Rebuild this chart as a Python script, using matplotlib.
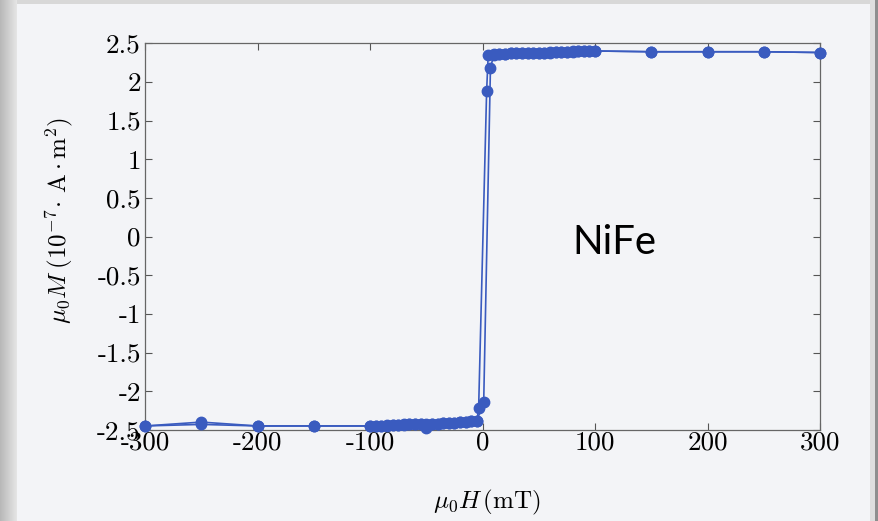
import numpy as np
import matplotlib
matplotlib.use("Agg")
import matplotlib.pyplot as plt
from matplotlib.patches import Rectangle

plt.rcParams['font.family'] = 'serif'
plt.rcParams['font.serif'] = ['cmr10', 'DejaVu Serif']
plt.rcParams['mathtext.fontset'] = 'cm'
plt.rcParams['axes.unicode_minus'] = False

# field sweep from -300 mT up to +300 mT
H_up = [-300, -250, -200, -150, -100, -95, -90, -85, -80, -75, -70, -65, -60,
        -55, -50, -45, -40, -35, -30, -25, -20, -15, -10, -5, 1, 7, 10, 15,
        20, 25, 30, 35, 40, 45, 50, 55, 60, 65, 70, 75, 80, 85, 90, 95, 100,
        150, 200, 250, 300]
M_up = [-2.45, -2.40, -2.45, -2.45, -2.45, -2.45, -2.45, -2.44, -2.44, -2.44,
        -2.43, -2.43, -2.43, -2.43, -2.42, -2.42, -2.42, -2.41, -2.41, -2.41,
        -2.40, -2.40, -2.39, -2.38, -2.14, 2.18, 2.35, 2.36, 2.36, 2.37, 2.37,
        2.37, 2.38, 2.38, 2.38, 2.38, 2.39, 2.39, 2.39, 2.39, 2.40, 2.40,
        2.40, 2.40, 2.40, 2.39, 2.39, 2.39, 2.38]

# field sweep from +300 mT back down to -300 mT
H_down = [300, 250, 200, 150, 100, 95, 90, 85, 80, 75, 70, 65, 60, 55, 50,
          45, 40, 35, 30, 25, 20, 15, 10, 5, 3.6, -3.5, -5, -10, -15, -20,
          -25, -30, -35, -40, -45, -50, -55, -60, -65, -70, -75, -80, -85,
          -90, -95, -100, -150, -200, -250, -300]
M_down = [2.38, 2.39, 2.39, 2.39, 2.40, 2.40, 2.40, 2.40, 2.39, 2.39, 2.39,
          2.39, 2.38, 2.38, 2.38, 2.38, 2.37, 2.37, 2.37, 2.37, 2.36, 2.36,
          2.36, 2.35, 1.88, -2.22, -2.39, -2.39, -2.40, -2.40, -2.41, -2.41,
          -2.41, -2.42, -2.42, -2.48, -2.43, -2.43, -2.43, -2.44, -2.44,
          -2.44, -2.45, -2.45, -2.45, -2.45, -2.45, -2.45, -2.43, -2.45]

xticks = [-300, -200, -100, 0, 100, 200, 300]
xlabels = ['-300', '-200', '-100', '0', '100', '200', '300']
yticks = [-2.5, -2, -1.5, -1, -0.5, 0, 0.5, 1, 1.5, 2, 2.5]
ylabels = ['-2.5', '-2', '-1.5', '-1', '-0.5', '0', '0.5', '1', '1.5', '2', '2.5']

blue = '#3a5bbf'

fig = plt.figure(figsize=(8.79, 5.21), dpi=100)
fig.patch.set_facecolor('#c8c8c8')

# scanned page backdrop with grey edges
bg = fig.add_axes([0, 0, 1, 1], zorder=-5)
bg.set_xlim(0, 879)
bg.set_ylim(521, 0)
bg.axis('off')
grad = np.linspace(0.72, 0.90, 50).reshape(1, -1)
bg.imshow(np.dstack([grad, grad, grad]), extent=[0, 17, 521, 0], aspect='auto')
bg.add_patch(Rectangle((17, 0), 853, 4, color='#d8d8d8', lw=0))
bg.add_patch(Rectangle((17, 4), 853, 517, color='#f3f4f7', lw=0))
bg.add_patch(Rectangle((870, 0), 5, 521, color='#dedede', lw=0))
bg.add_patch(Rectangle((875, 0), 4, 521, color='#8e8e8e', lw=0))

ax = fig.add_axes([0.165, 0.175, 0.768, 0.742])
ax.set_facecolor('none')

ax.plot(H_up, M_up, '-o', color=blue, lw=1.2, ms=7.5, clip_on=False, zorder=3)
ax.plot(H_down, M_down, '-o', color=blue, lw=1.2, ms=7.5, clip_on=False, zorder=3)

ax.set_xlim(-300, 300)
ax.set_ylim(-2.5, 2.5)
ax.set_xticks(xticks)
ax.set_xticklabels(xlabels)
ax.set_yticks(yticks)
ax.set_yticklabels(ylabels)
ax.tick_params(direction='in', length=5, width=0.8, color='#555555',
               labelsize=19.5, top=True, right=True, pad=3)
ax.tick_params(axis='x', pad=1)
for s in ax.spines.values():
    s.set_color('#666666')
    s.set_linewidth(0.9)

ax.set_xlabel(r'$\mu_0 H\,$(mT)', fontsize=18)
ax.xaxis.set_label_coords(0.507, -0.15)
ax.set_ylabel(r'$\mu_0 M\;(10^{-7}\!\cdot\,\mathrm{A}\cdot\mathrm{m}^2)$',
              fontsize=18)
ax.yaxis.set_label_coords(-0.103, 0.543)

ax.text(79.5, -0.23, 'NiFe', family=['Lato', 'DejaVu Sans'], fontsize=29,
        color='black')

fig.savefig('out.png', dpi=100, facecolor=fig.get_facecolor())
